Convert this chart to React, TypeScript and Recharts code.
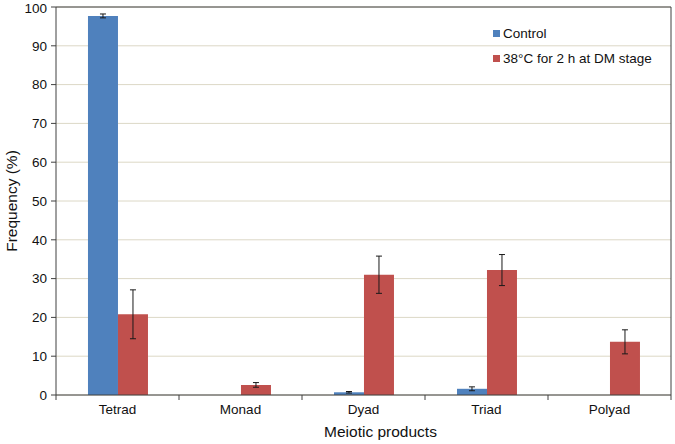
import {
  BarChart,
  Bar,
  XAxis,
  YAxis,
  CartesianGrid,
  ErrorBar,
  Legend,
  ReferenceLine,
} from 'recharts';

const categories = ['Tetrad', 'Monad', 'Dyad', 'Triad', 'Polyad'];
const controlValues = [97.7, 0, 0.7, 1.6, 0];
const controlErrors = [0.5, 0, 0.2, 0.5, 0];
const heatValues = [20.8, 2.6, 31.0, 32.2, 13.7];
const heatErrors = [6.3, 0.6, 4.8, 4.0, 3.1];
const yTicks = [0, 10, 20, 30, 40, 50, 60, 70, 80, 90, 100];

const CONTROL_NAME = 'Control';
const HEAT_NAME = '38°C for 2 h at DM stage';
const seriesOrder = [CONTROL_NAME, HEAT_NAME];

const AXIS = '#404040';
const FONT = '"Liberation Sans", Arial, sans-serif';

const data = categories.map((name, i) => ({
  name,
  control: controlValues[i],
  controlErr: controlErrors[i],
  heat: heatValues[i],
  heatErr: heatErrors[i],
}));

// category labels with tick marks at the category boundaries (Excel style)
function CategoryTick(props: any) {
  const { x, y, payload, index, visibleTicksCount, width } = props;
  const half = payload?.offset || width / visibleTicksCount / 2;
  return (
    <g>
      <line x1={x - half} x2={x - half} y1={y} y2={y + 5} stroke={AXIS} />
      {index === visibleTicksCount - 1 && (
        <line x1={x + half} x2={x + half} y1={y} y2={y + 5} stroke={AXIS} />
      )}
      <text x={x} y={y + 9} dy="0.71em" textAnchor="middle" fontSize={13.5} fill="#111" fontFamily={FONT}>
        {payload.value}
      </text>
    </g>
  );
}

function LegendContent(props: any) {
  const items = [...(props.payload || [])].sort(
    (a: any, b: any) => seriesOrder.indexOf(a.value) - seriesOrder.indexOf(b.value)
  );
  return (
    <div style={{ fontFamily: FONT, fontSize: 13.5, color: '#111' }}>
      {items.map((e: any) => (
        <div key={e.value} style={{ display: 'flex', alignItems: 'center', height: 25 }}>
          <span style={{ display: 'inline-block', width: 7, height: 7, background: e.color, marginRight: 3 }} />
          <span>{e.value}</span>
        </div>
      ))}
    </div>
  );
}

export default function App() {
  return (
    <div style={{ position: 'absolute', left: 0, top: 0, width: 675, height: 444, background: '#fff' }}>
      <BarChart
        width={675}
        height={444}
        data={data}
        margin={{ top: 7, right: 0, left: 0, bottom: 0 }}
        barCategoryGap="26%"
        barGap={0}
      >
        <CartesianGrid vertical={false} stroke="#dcd8c6" />
        <XAxis
          dataKey="name"
          height={49}
          stroke={AXIS}
          tickLine={false}
          tickSize={0}
          tickMargin={0}
          tick={<CategoryTick />}
          interval={0}
          label={{
            content: ({ viewBox }: any) => (
              <text
                x={viewBox.x + viewBox.width / 2 + 17}
                y={viewBox.y + 37}
                dy="0.35em"
                textAnchor="middle"
                fontSize={15.5}
                fill="#111"
                fontFamily={FONT}
              >
                Meiotic products
              </text>
            ),
          }}
        />
        <YAxis
          domain={[0, 100]}
          ticks={yTicks}
          width={56}
          stroke={AXIS}
          tickSize={5}
          tickMargin={4}
          tick={{ fontSize: 13.5, fill: '#111', fontFamily: FONT }}
          label={{
            content: ({ viewBox }: any) => (
              <text
                x={viewBox.x + 12}
                y={viewBox.y + viewBox.height / 2}
                transform={`rotate(-90 ${viewBox.x + 12} ${viewBox.y + viewBox.height / 2})`}
                dy="0.35em"
                textAnchor="middle"
                fontSize={15.5}
                fill="#111"
                fontFamily={FONT}
              >
                Frequency (%)
              </text>
            ),
          }}
        />
        <YAxis
          yAxisId="right"
          orientation="right"
          domain={[0, 100]}
          width={4}
          stroke={AXIS}
          tick={false}
          tickLine={false}
        />
        <ReferenceLine y={100} stroke={AXIS} />
        <Legend
          layout="vertical"
          align="center"
          verticalAlign="middle"
          wrapperStyle={{ top: 21, left: 493, width: 180 }}
          content={<LegendContent />}
        />
        <Bar dataKey="control" name={CONTROL_NAME} fill="#4f81bd" isAnimationActive={false}>
          <ErrorBar dataKey="controlErr" width={3} stroke="#1a1a1a" strokeWidth={1} />
        </Bar>
        <Bar dataKey="heat" name={HEAT_NAME} fill="#c0504d" isAnimationActive={false}>
          <ErrorBar dataKey="heatErr" width={3} stroke="#1a1a1a" strokeWidth={1} />
        </Bar>
      </BarChart>
    </div>
  );
}
